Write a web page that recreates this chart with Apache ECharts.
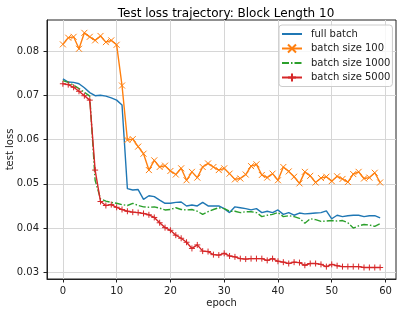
<!DOCTYPE html>
<html>
<head>
<meta charset="utf-8">
<script src="https://cdn.jsdelivr.net/npm/echarts@6/dist/echarts.min.js"></script>
<style>html,body{margin:0;padding:0;background:#fff;}#c{width:405px;height:314px;}</style>
</head>
<body>
<div id="c"></div>
<script>
const epochs = Array.from({length: 60}, (_, i) => i);
const xTicks = [0, 10, 20, 30, 40, 50, 60];
const yTicks = [0.03, 0.04, 0.05, 0.06, 0.07, 0.08];
const seriesNames = ['full batch', 'batch size 100', 'batch size 1000', 'batch size 5000'];

const fullBatch = [0.0737,0.0730,0.0729,0.0726,0.0717,0.0706,0.0699,0.0700,0.0698,0.0694,
  0.0689,0.0678,0.0489,0.0486,0.0487,0.0465,0.0473,0.0471,0.0463,0.0456,
  0.0456,0.0458,0.0459,0.0450,0.0452,0.0450,0.0458,0.0450,0.0450,0.0450,
  0.0444,0.0435,0.0448,0.0446,0.0444,0.0441,0.0444,0.0435,0.0438,0.0435,
  0.0441,0.0431,0.0435,0.0429,0.0434,0.0432,0.0433,0.0434,0.0435,0.0439,
  0.0421,0.0429,0.0426,0.0428,0.0429,0.0429,0.0426,0.0428,0.0428,0.0423];
const batch100 = [0.0815,0.0830,0.0832,0.0805,0.0841,0.0832,0.0824,0.0834,0.0820,0.0824,
  0.0814,0.0722,0.0599,0.0601,0.0584,0.0568,0.0531,0.0553,0.0538,0.0541,
  0.0529,0.0521,0.0535,0.0508,0.0527,0.0514,0.0538,0.0546,0.0538,0.0531,
  0.0535,0.0523,0.0510,0.0512,0.0521,0.0540,0.0544,0.0520,0.0514,0.0523,
  0.0508,0.0538,0.0528,0.0516,0.0501,0.0527,0.0518,0.0503,0.0513,0.0516,
  0.0506,0.0517,0.0511,0.0504,0.0522,0.0527,0.0512,0.0514,0.0525,0.0503];
const batch1000 = [0.0733,0.0729,0.0723,0.0715,0.0707,0.0698,0.0508,0.0466,0.0461,0.0458,
  0.0456,0.0453,0.0451,0.0456,0.0451,0.0448,0.0447,0.0448,0.0445,0.0441,
  0.0442,0.0446,0.0442,0.0441,0.0442,0.0438,0.0431,0.0437,0.0442,0.0446,
  0.0444,0.0438,0.0438,0.0435,0.0437,0.0437,0.0435,0.0426,0.0429,0.0431,
  0.0435,0.0426,0.0428,0.0426,0.0422,0.0411,0.0421,0.0419,0.0415,0.0416,
  0.0417,0.0416,0.0417,0.0412,0.0400,0.0405,0.0408,0.0407,0.0404,0.0410];
const batch5000 = [0.0726,0.0724,0.0718,0.0709,0.0699,0.0689,0.0531,0.0460,0.0451,0.0453,
  0.0447,0.0442,0.0438,0.0436,0.0435,0.0433,0.0430,0.0424,0.0412,0.0401,
  0.0395,0.0384,0.0377,0.0368,0.0354,0.0362,0.0348,0.0347,0.0340,0.0339,
  0.0343,0.0337,0.0335,0.0331,0.0330,0.0331,0.0331,0.0331,0.0327,0.0331,
  0.0325,0.0323,0.0320,0.0323,0.0322,0.0316,0.0320,0.0320,0.0318,0.0313,
  0.0318,0.0315,0.0313,0.0313,0.0313,0.0313,0.0311,0.0311,0.0311,0.0311];

const pairs = arr => epochs.map((e, i) => [e, arr[i]]);
const FONT = 'DejaVu Sans';
const xSym = 'path://M0,0L10,10M10,0L0,10';
const plusSym = 'path://M5,0L5,10M0,5L10,5';

const chart = echarts.init(document.getElementById('c'), null, {renderer: 'canvas'});
chart.setOption({
  animation: false,
  backgroundColor: '#fff',
  title: {
    text: 'Test loss trajectory: Block Length 10',
    left: 221, top: 3, textAlign: 'center',
    textStyle: {fontFamily: FONT, fontSize: 12, fontWeight: 'normal', color: '#000'}
  },
  grid: {left: 47, top: 20, right: 9, bottom: 35, containLabel: false, outerBoundsMode: 'none',
    show: true, borderColor: '#222', borderWidth: 1, backgroundColor: 'transparent'},
  xAxis: {
    type: 'value', min: -2.95, max: 61.95,
    name: 'epoch', nameLocation: 'middle', nameGap: 19, nameMoveOverlap: false,
    nameTextStyle: {fontFamily: FONT, fontSize: 10, color: '#222'},
    axisLine: {show: true, onZero: false, lineStyle: {color: '#222', width: 1}},
    axisTick: {show: true, length: 3.5, customValues: xTicks, lineStyle: {color: '#222'}},
    axisLabel: {customValues: xTicks, fontFamily: FONT, fontSize: 10, color: '#222', margin: 7},
    splitLine: {show: true, lineStyle: {color: '#d6d6d6', width: 1}}
  },
  yAxis: {
    type: 'value', min: 0.0285, max: 0.0870,
    name: 'test loss', nameLocation: 'middle', nameGap: 32, nameRotate: 90, nameMoveOverlap: false,
    nameTextStyle: {fontFamily: FONT, fontSize: 10, color: '#222'},
    axisLine: {show: true, onZero: false, lineStyle: {color: '#222', width: 1}},
    axisTick: {show: true, length: 3.5, customValues: yTicks, lineStyle: {color: '#222'}},
    axisLabel: {customValues: yTicks, fontFamily: FONT, fontSize: 10, color: '#222', margin: 8,
      formatter: v => v.toFixed(2)},
    splitLine: {show: true, lineStyle: {color: '#d6d6d6', width: 1}}
  },
  legend: {
    orient: 'vertical', left: 279, top: 25,
    padding: [4, 2, 4, 2],
    itemWidth: 20, itemHeight: 10, itemGap: 4.5,
    backgroundColor: 'rgba(255,255,255,0.8)',
    borderColor: '#cccccc', borderWidth: 1, borderRadius: 3,
    textStyle: {fontFamily: FONT, fontSize: 10, color: '#222', padding: [0, 0, 0, 4]},
    data: [
      {name: seriesNames[0], itemStyle: {opacity: 0}},
      {name: seriesNames[1]},
      {name: seriesNames[2], itemStyle: {opacity: 0}},
      {name: seriesNames[3]}
    ]
  },
  series: [
    {name: seriesNames[0], type: 'line', data: pairs(fullBatch), showSymbol: false, symbol: 'none',
     color: '#1f77b4', lineStyle: {width: 1.4, color: '#1f77b4'}},
    {name: seriesNames[1], type: 'line', data: pairs(batch100), symbol: xSym, symbolSize: 6, showAllSymbol: true,
     color: '#ff7f0e', lineStyle: {width: 1.4, color: '#ff7f0e'},
     itemStyle: {color: '#ff7f0e', borderColor: '#ff7f0e', borderWidth: 1}},
    {name: seriesNames[2], type: 'line', data: pairs(batch1000), showSymbol: false, symbol: 'none',
     color: '#2ca02c', lineStyle: {width: 1.4, color: '#2ca02c', type: [7, 2, 1.5, 2]}},
    {name: seriesNames[3], type: 'line', data: pairs(batch5000), symbol: plusSym, symbolSize: 6, showAllSymbol: true,
     color: '#d62728', lineStyle: {width: 1.4, color: '#d62728'},
     itemStyle: {color: '#d62728', borderColor: '#d62728', borderWidth: 1}}
  ]
});
</script>
</body>
</html>
